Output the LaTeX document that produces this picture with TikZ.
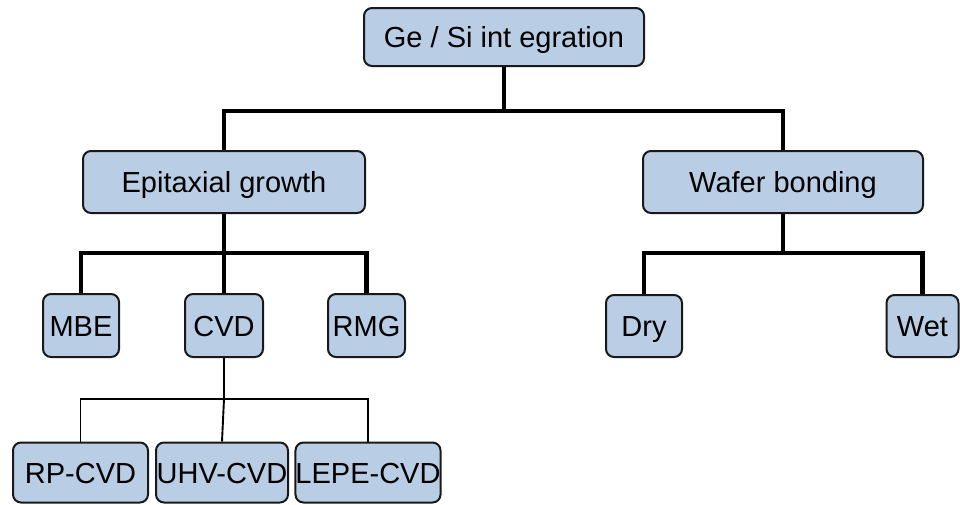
\documentclass[tikz,border=0pt]{standalone}
\usepackage{fontspec}
\setmainfont{Liberation Sans}
\usetikzlibrary{calc}
\definecolor{boxblue}{RGB}{185,205,229}
\tikzset{
	box/.style={draw=black!90, fill=boxblue, rounded corners=8pt, line width=2pt, inner sep=0pt, text height=21pt, text depth=0pt, font=\fontsize{29}{32}\selectfont},
	thickline/.style={line width=4.8pt},
	thinline/.style={line width=1.9pt}
}

\begin{document}
\begin{tikzpicture}[x=1pt, y=-1pt]
			%%%%% START %%%%%
			
			\useasboundingbox (0, 0) rectangle (960, 504);
			
			\node[box, minimum width=280, minimum height=58] (top) at (504, 37) {Ge / Si int egration};
			
			\node[box, minimum width=282, minimum height=62] (epi) at (224, 182) {Epitaxial growth};
			\node[box, minimum width=280, minimum height=62] (wafer) at (783, 182) {Wafer bonding};
			
			\node[box, minimum width=76, minimum height=63] (mbe) at (81, 325.5) {MBE};
			\node[box, minimum width=78, minimum height=63] (cvd) at (224, 325.5) {CVD};
			\node[box, minimum width=77, minimum height=63] (rmg) at (366.5, 325.5) {RMG};
			
			\node[box, minimum width=76, minimum height=62] (dry) at (644, 326) {Dry};
			\node[box, minimum width=72, minimum height=62] (wet) at (922.5, 326) {Wet};
			
			\node[box, minimum width=135, minimum height=60] (rpcvd) at (80.5, 472.5) {RP-CVD};
			\node[box, minimum width=132, minimum height=60] (uhvcvd) at (222, 472.5) {UHV-CVD};
			\node[box, minimum width=138, minimum height=60] (lepecvd) at (368, 472.5) {LEPE-CVD};
			
			\coordinate (topbar) at (504, 111);
			\coordinate (epibar) at (224, 253);
			\coordinate (waferbar) at (783, 253);
			\coordinate (cvdbar) at (224, 399);
			
			%%%%% CONNECTORS %%%%%
			
			\draw[thickline] (top.south) -- (topbar);
			\draw[thickline] (epi.north) -- (epi.north |- topbar) -- (wafer.north |- topbar) -- (wafer.north);
			
			\draw[thickline] (epi.south) -- (epibar);
			\draw[thickline] (mbe.north) -- (mbe.north |- epibar) -- (rmg.north |- epibar) -- (rmg.north);
			\draw[thickline] (epibar) -- (cvd.north);
			
			\draw[thickline] (wafer.south) -- (waferbar);
			\draw[thickline] (dry.north) -- (dry.north |- waferbar) -- (wet.north |- waferbar) -- (wet.north);
			
			\draw[thinline] (cvd.south) -- (cvdbar);
			\draw[thinline] (rpcvd.north) -- (rpcvd.north |- cvdbar) -- (lepecvd.north |- cvdbar) -- (lepecvd.north);
			\draw[thinline] (cvdbar) -- (uhvcvd.north);
			
			%%%%% END %%%%%
\end{tikzpicture}
\end{document}
